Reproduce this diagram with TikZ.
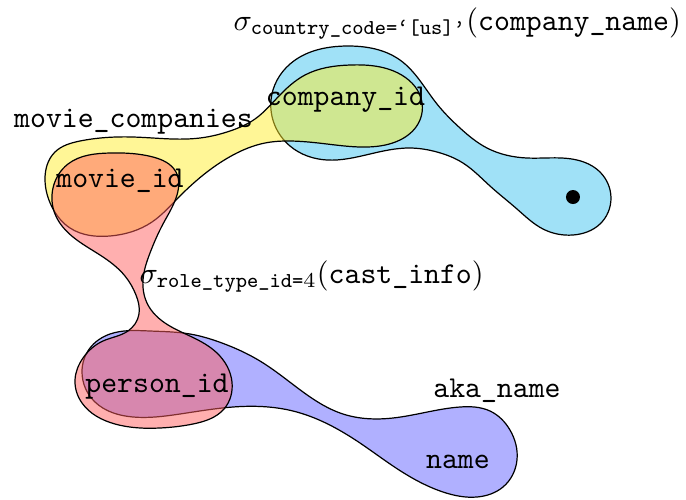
\documentclass[tikz,border=0pt]{standalone}
\usepackage{amsmath}
\usetikzlibrary{hobby}
\definecolor{cnbase}{RGB}{65,195,239}
\definecolor{mcbase}{RGB}{255,237,45}
\definecolor{cibase}{RGB}{255,95,95}
\definecolor{anbase}{RGB}{97,97,255}
\tikzset{
  edgeblob/.style={draw=black, line width=0.4pt, fill opacity=0.5},
  lbl/.style={inner sep=0pt, anchor=base, font=\ttfamily},
  mathlbl/.style={inner sep=0pt, anchor=base west},
}
\begin{document}
\begin{tikzpicture}[x=0.33pt, y=-0.33pt]
\useasboundingbox (0,0) rectangle (686,499);

% hyperedge company_name (sigma country_code)
\draw[edgeblob, fill=cnbase] plot[closed hobby] coordinates {
  (271,100) (290,64) (347,46) (400,60) (437,104) (460,128) (487,148)
  (527,158) (577,160) (600,172) (611,198) (600,224) (573,235) (543,229)
  (517,209) (490,186) (463,163) (437,152) (410,148) (370,154) (327,160)
  (290,146)};

% hyperedge aka_name
\draw[edgeblob, fill=anbase] plot[closed hobby] coordinates {
  (110,334) (150,331) (190,334) (222,343) (260,361) (295,386) (343,414)
  (393,418) (460,407) (490,411) (510,430) (517,460) (503,487) (477,497)
  (443,492) (393,466) (360,443) (293,411) (233,407) (180,414) (133,417)
  (95,402) (82,372) (90,348)};

% hyperedge movie_companies
\draw[edgeblob, fill=mcbase] plot[closed hobby] coordinates {
  (45,180) (55,152) (80,141) (133,137) (200,138) (230,131) (255,119)
  (278,97) (305,75) (350,65) (398,73) (421,98) (418,124) (400,140)
  (367,147) (327,144) (290,141) (265,143) (233,155) (207,172) (178,198)
  (152,222) (110,236) (70,228) (52,207)};

% hyperedge cast_info (sigma role_type_id)
\draw[edgeblob, fill=cibase] plot[closed hobby] coordinates {
  (110,153) (153,157) (176,172) (177,195) (163,224) (150,253) (143,280)
  (148,305) (165,323) (192,337) (217,353) (232,382) (224,409) (193,424)
  (160,428) (115,424) (82,403) (75,380) (83,358) (103,341) (128,331)
  (139,314) (136,295) (125,276) (100,255) (73,237) (55,214) (53,188)
  (68,164)};

% attribute vertex of company_name
\fill (573,197) circle[radius=7];

% labels
\node[mathlbl] (selcn) at (233,30)
  {$\sigma_{\texttt{country\_code=‘[us]’}}(\texttt{company\_name})$};
\node[mathlbl] (selci) at (139,283)
  {$\sigma_{\texttt{role\_type\_id=}4}(\texttt{cast\_info})$};
\node[lbl] (mc) at (133.5,127) {movie\_companies};
\node[lbl] (cid) at (345.5,105) {company\_id};
\node[lbl] (mid) at (120,187) {movie\_id};
\node[lbl] (pid) at (157,392) {person\_id};
\node[lbl] (an) at (497,397) {aka\_name};
\node[lbl] (nm) at (458,468) {name};
\end{tikzpicture}
\end{document}
